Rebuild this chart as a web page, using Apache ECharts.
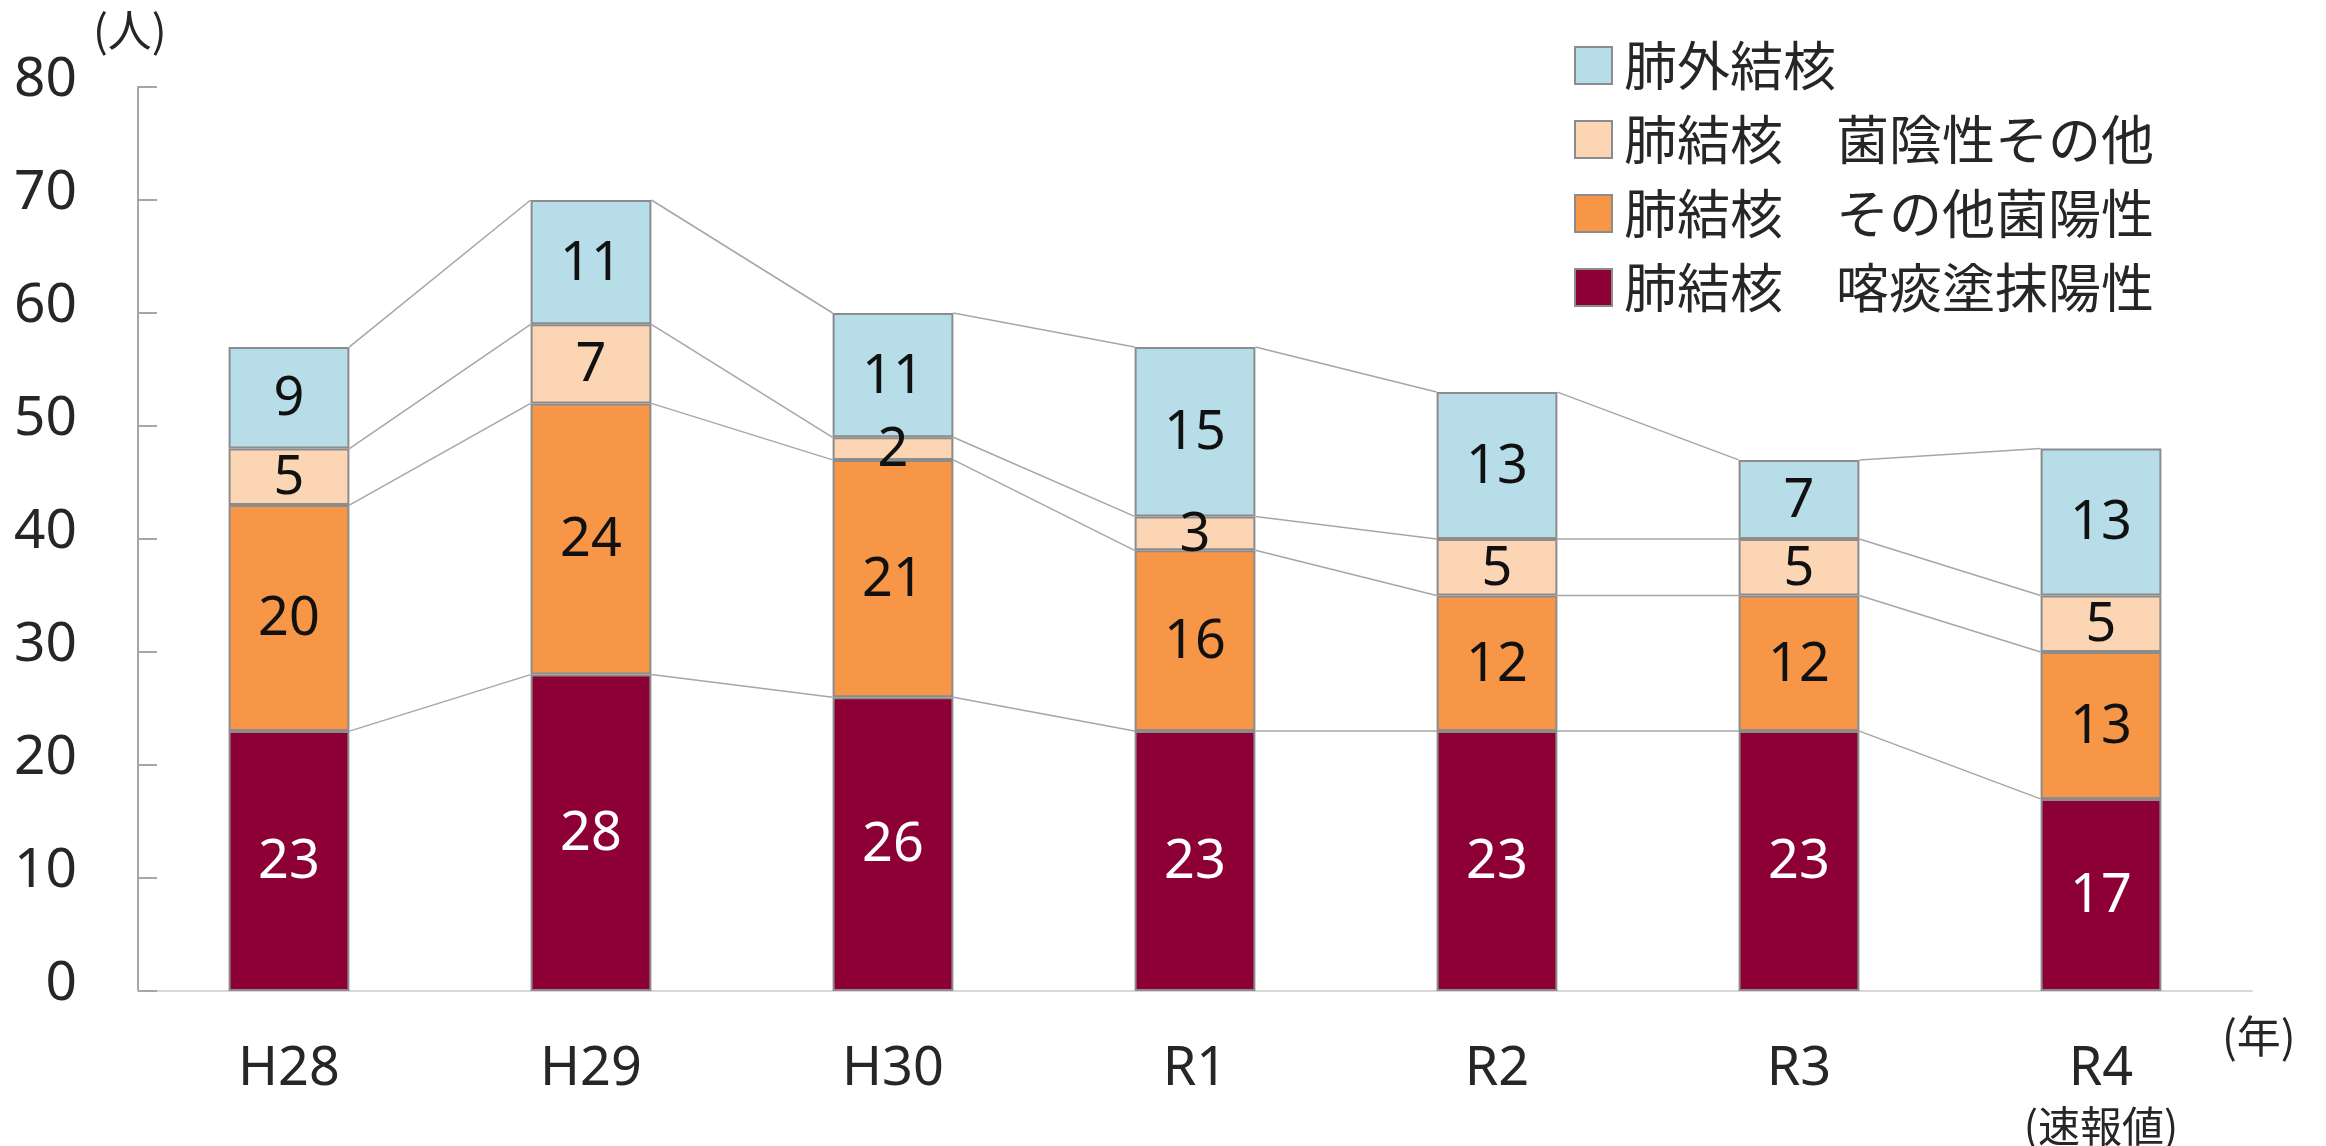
<!DOCTYPE html>
<html>
<head>
<meta charset="utf-8">
<script src="https://cdn.jsdelivr.net/npm/echarts@6/dist/echarts.min.js"></script>
<style>
  html, body { margin: 0; padding: 0; background: #fff; }
  #chart { width: 2326px; height: 1146px; }
</style>
</head>
<body>
<div id="chart"></div>
<script>
// 年度
var categories = ['H28', 'H29', 'H30', 'R1', 'R2', 'R3', 'R4'];
// 肺結核 喀痰塗抹陽性
var smearPos = [23, 28, 26, 23, 23, 23, 17];
// 肺結核 その他菌陽性
var otherPos = [20, 24, 21, 16, 12, 12, 13];
// 肺結核 菌陰性その他
var negOther = [5, 7, 2, 3, 5, 5, 5];
// 肺外結核
var extraPul = [9, 11, 11, 15, 13, 7, 13];
var yTicks = [0, 10, 20, 30, 40, 50, 60, 70, 80];

var names = ['肺結核　喀痰塗抹陽性', '肺結核　その他菌陽性', '肺結核　菌陰性その他', '肺外結核'];
var colors = ['#8c0036', '#f79646', '#fcd5b5', '#b7dde8'];
var stacks = [smearPos, otherPos, negOther, extraPul];

var NUM = '"Noto Sans", "Noto Sans CJK JP", sans-serif';
var CJK = '"Noto Sans CJK JP", sans-serif';

// 系列線（各年の積み上げ境界をつなぐ）
var lineData = [];
var cum = categories.map(function () { return 0; });
stacks.forEach(function (arr) {
  cum = cum.map(function (c, i) { return c + arr[i]; });
  for (var i = 0; i < categories.length - 1; i++) {
    lineData.push([i, i + 1, cum[i], cum[i + 1]]);
  }
});

var chart = echarts.init(document.getElementById('chart'));

var barSeries = stacks.map(function (arr, k) {
  return {
    name: names[k],
    type: 'bar',
    stack: 'total',
    barWidth: '40%',
    z: 3,
    itemStyle: { color: colors[k], borderColor: '#8c8c8c', borderWidth: 2 },
    label: {
      show: true,
      position: 'inside',
      offset: [0, 2],
      fontFamily: NUM,
      fontSize: 54,
      color: k === 0 ? '#ffffff' : '#111111'
    },
    data: arr
  };
});

var option = {
  animation: false,
  backgroundColor: '#ffffff',
  grid: { left: 138, right: 74, top: 87, bottom: 155, containLabel: false, outerBoundsMode: 'none' },
  legend: {
    data: ['肺外結核', '肺結核　菌陰性その他', '肺結核　その他菌陽性', '肺結核　喀痰塗抹陽性'],
    orient: 'vertical',
    left: 1569,
    top: 34,
    itemWidth: 37,
    itemHeight: 37,
    itemGap: 21,
    selectedMode: false,
    icon: 'rect',
    textStyle: {
      fontFamily: CJK,
      fontSize: 53,
      lineHeight: 53,
      color: '#262626',
      padding: [0, 0, 0, 7]
    }
  },
  graphic: [
    {
      type: 'text',
      left: 93,
      top: 8,
      style: { text: '(人)', fontFamily: CJK, fontSize: 44, fill: '#262626' }
    },
    {
      type: 'text',
      left: 2222,
      top: 1014,
      style: { text: '(年)', fontFamily: CJK, fontSize: 44, fill: '#262626' }
    }
  ],
  xAxis: {
    type: 'category',
    data: categories,
    axisLine: { lineStyle: { color: '#d9d9d9', width: 2 } },
    axisTick: { show: false },
    axisLabel: {
      interval: 0,
      fontFamily: NUM,
      fontSize: 54,
      color: '#262626',
      margin: 48,
      lineHeight: 62,
      formatter: function (v) {
        return v === 'R4' ? 'R4\n{s|(速報値)}' : v;
      },
      rich: {
        s: { fontFamily: CJK, fontSize: 42, lineHeight: 50, color: '#262626' }
      }
    }
  },
  yAxis: {
    type: 'value',
    min: 0,
    max: 80,
    interval: 10,
    axisLine: { show: true, lineStyle: { color: '#a6a6a6', width: 2 } },
    axisTick: { show: true, inside: true, length: 19, lineStyle: { color: '#a6a6a6', width: 2 } },
    splitLine: { show: false },
    axisLabel: {
      fontFamily: NUM,
      fontSize: 55,
      color: '#262626',
      margin: 61,
      verticalAlign: 'bottom',
      lineHeight: 14,
      formatter: function (v) { return yTicks.indexOf(v) >= 0 ? String(v) : ''; }
    }
  },
  series: barSeries.concat([{
    type: 'custom',
    name: 'series-lines',
    z: 1,
    silent: true,
    encode: { x: [0, 1], y: [2, 3] },
    renderItem: function (params, api) {
      var p0 = api.coord([api.value(0), api.value(2)]);
      var p1 = api.coord([api.value(1), api.value(3)]);
      var bw = api.size([1, 0])[0] * 0.4;
      return {
        type: 'line',
        shape: { x1: p0[0] + bw / 2, y1: p0[1], x2: p1[0] - bw / 2, y2: p1[1] },
        style: { stroke: '#a6a6a6', lineWidth: 1.5 }
      };
    },
    data: lineData
  }])
};

chart.setOption(option);
</script>
</body>
</html>
